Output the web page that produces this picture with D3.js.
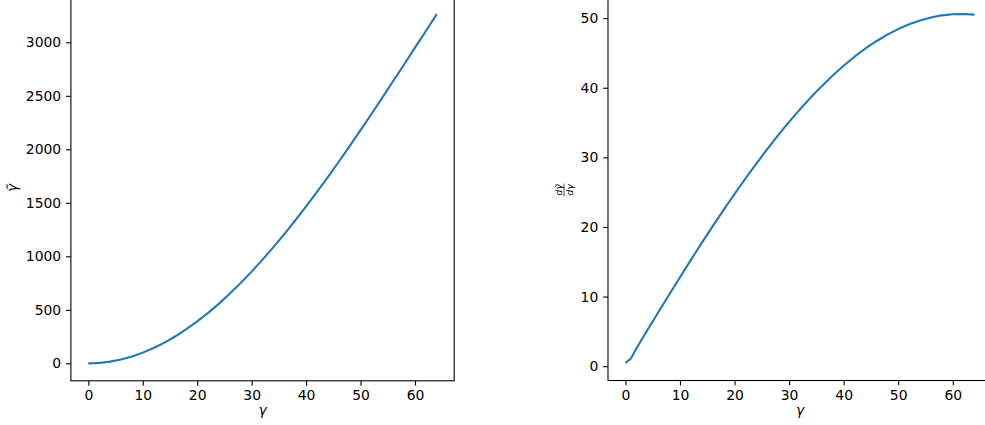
<!DOCTYPE html>
<html>
<head>
<meta charset="utf-8">
<script src="https://cdn.jsdelivr.net/npm/d3@7"></script>
<style>
  body { margin: 0; background: #fff; }
  svg { display: block; font-family: 'DejaVu Sans', sans-serif; }
  .tick text { font-size: 13.9px; fill: #000; font-family: 'DejaVu Sans', sans-serif; }
  .tick line { stroke: #000; stroke-width: 1.1; }
</style>
</head>
<body>
<div id="chart"></div>
<script>
// values
const gamma = [0, 1, 2, 4, 6, 8, 10, 12, 14, 16, 18, 20, 22, 24, 26, 28, 30, 32,
  34, 36, 38, 40, 42, 44, 46, 48, 50, 52, 54, 56, 58, 60, 62, 64];
const gammaTilde = [0, 1, 4, 16, 36, 64, 100, 143, 194, 253, 319, 392, 472, 558, 652, 752, 857, 969,
  1086, 1208, 1335, 1466, 1602, 1741, 1884, 2030, 2179, 2330, 2483, 2638, 2793, 2950, 3106, 3263];
const dGammaTilde = [0.45, 1.1, 2.55, 5.16, 7.72, 10.27, 12.78, 15.27, 17.71, 20.11, 22.45, 24.74, 26.96, 29.11, 31.19, 33.18, 35.09, 36.9,
  38.62, 40.23, 41.75, 43.16, 44.46, 45.64, 46.68, 47.62, 48.43, 49.12, 49.67, 50.1, 50.4, 50.56, 50.6, 50.5];

const xTicks = [0, 10, 20, 30, 40, 50, 60];
const leftYTicks = [0, 500, 1000, 1500, 2000, 2500, 3000];
const rightYTicks = [0, 10, 20, 30, 40, 50];

const width = 985;
const height = 425;
const tickLen = 4.86;
const tickPad = 4.86;

const svg = d3.select('#chart')
  .append('svg')
    .attr('width', width)
    .attr('height', height);

svg.append('rect')
  .attr('width', width)
  .attr('height', height)
  .attr('fill', '#fff');

// matplotlib-like 5% padding of the data range
function padded(values) {
  const [lo, hi] = d3.extent(values);
  const m = (hi - lo) * 0.05;
  return [lo - m, hi + m];
}

function drawPanel(box, ys, yTicks) {
  const scaleX = d3.scaleLinear()
    .domain(padded(gamma))
    .range([box.left, box.right]);

  const scaleY = d3.scaleLinear()
    .domain(padded(ys))
    .range([box.bottom, box.top]);

  const g = svg.append('g');

  const xAxis = d3.axisBottom(scaleX)
    .tickValues(xTicks)
    .tickSizeInner(tickLen)
    .tickSizeOuter(0)
    .tickPadding(tickPad)
    .tickFormat(d3.format('d'));

  g.append('g')
    .attr('transform', 'translate(0,' + box.bottom + ')')
    .call(xAxis)
    .call(a => a.select('.domain').remove());

  const yAxis = d3.axisLeft(scaleY)
    .tickValues(yTicks)
    .tickSizeInner(tickLen)
    .tickSizeOuter(0)
    .tickPadding(tickPad)
    .tickFormat(d3.format('d'));

  g.append('g')
    .attr('transform', 'translate(' + box.left + ',0)')
    .call(yAxis)
    .call(a => a.select('.domain').remove());

  const line = d3.line()
    .x((d, i) => scaleX(gamma[i]))
    .y(d => scaleY(d));

  g.append('path')
    .datum(ys)
    .attr('fill', 'none')
    .attr('stroke', '#1f77b4')
    .attr('stroke-width', 2.08)
    .attr('stroke-linejoin', 'round')
    .attr('stroke-linecap', 'butt')
    .attr('d', line);

  // spines
  g.append('rect')
    .attr('x', box.left)
    .attr('y', box.top)
    .attr('width', box.right - box.left)
    .attr('height', box.bottom - box.top)
    .attr('fill', 'none')
    .attr('stroke', '#000')
    .attr('stroke-width', 1.1);

  // x label
  g.append('text')
    .attr('x', (box.left + box.right) / 2)
    .attr('y', 415)
    .attr('text-anchor', 'middle')
    .attr('font-size', 13.9)
    .attr('font-style', 'italic')
    .text('γ');

  return g;
}

const left = drawPanel({ left: 70.9, right: 454.2, top: -3.3, bottom: 380.8 }, gammaTilde, leftYTicks);
const right = drawPanel({ left: 608, right: 992, top: -3.5, bottom: 380.5 }, dGammaTilde, rightYTicks);

// y label, left panel
left.append('text')
  .attr('transform', 'translate(17,188) rotate(-90)')
  .attr('text-anchor', 'middle')
  .attr('font-size', 13.9)
  .attr('font-style', 'italic')
  .text('γ\u0303');

// y label, right panel: fraction d(γ~)/d(γ)
const frac = right.append('g')
  .attr('transform', 'translate(564,190) rotate(-90)');

frac.append('text')
  .attr('y', -2.5)
  .attr('text-anchor', 'middle')
  .attr('font-size', 9.5)
  .attr('font-style', 'italic')
  .text('dγ\u0303');

frac.append('line')
  .attr('x1', -6.5)
  .attr('x2', 6.5)
  .attr('stroke', '#000')
  .attr('stroke-width', 0.7);

frac.append('text')
  .attr('y', 9)
  .attr('text-anchor', 'middle')
  .attr('font-size', 9.5)
  .attr('font-style', 'italic')
  .text('dγ');
</script>
</body>
</html>
